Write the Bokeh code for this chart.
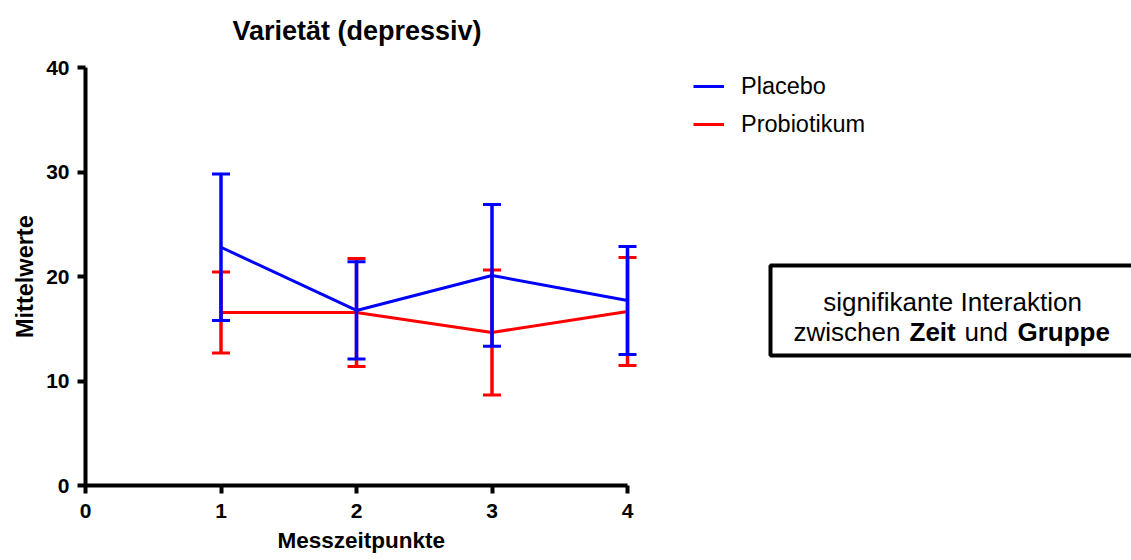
from bokeh.plotting import figure
from bokeh.models import (ColumnDataSource, Legend, LegendItem, Label, Title,
                          BoxAnnotation, Range1d, FixedTicker)
from bokeh.embed import file_html
from bokeh.resources import INLINE

# ---- data ----
zeitpunkte = [1, 2, 3, 4]
placebo_mean = [22.8, 16.75, 20.1, 17.7]
placebo_sd = [7.0, 4.65, 6.78, 5.17]
probio_mean = [16.55, 16.55, 14.65, 16.65]
probio_sd = [3.88, 5.17, 5.98, 5.17]
x_ticks = [0, 1, 2, 3, 4]
y_ticks = [0, 10, 20, 30, 40]
series_names = ["Placebo", "Probiotikum"]
series_colors = ["#0000FF", "#FF0000"]
chart_title = "Varietät (depressiv)"

FONT = "Liberation Sans"

# The frame spans from the y axis to the right/top edges of the page so that the
# title, legend and note box (drawn inside the frame) are not clipped; the axes
# themselves are bounded to 0..4 and 0..40.
LEFT, BOTTOM = 85, 485          # pixel position of the origin
X_AXIS_PX = 542                 # pixel length of the x axis (0..4)
Y_AXIS_PX = 418                 # pixel length of the y axis (0..40)
x_end = 4 * (1131 - LEFT) / X_AXIS_PX
y_end = 40 * BOTTOM / Y_AXIS_PX

p = figure(width=1131, height=560, output_backend="svg", toolbar_location=None,
           title=None,
           x_range=Range1d(0, x_end), y_range=Range1d(0, y_end),
           min_border_left=LEFT, min_border_right=0,
           min_border_top=0, min_border_bottom=560 - BOTTOM)
p.outline_line_color = None
p.grid.visible = False
p.background_fill_color = "white"
p.border_fill_color = "white"

for ax in (p.xaxis[0], p.yaxis[0]):
    ax.axis_line_width = 4
    ax.axis_line_color = "black"
    ax.major_tick_line_width = 4
    ax.major_tick_line_color = "black"
    ax.major_tick_out = 8
    ax.major_tick_in = 0
    ax.minor_tick_line_color = None
    ax.major_label_text_font = FONT
    ax.major_label_text_font_size = "21px"
    ax.major_label_text_font_style = "bold"
    ax.major_label_text_color = "black"

p.xaxis.bounds = (0, 4)
p.yaxis.bounds = (0, 40)
p.xaxis.ticker = FixedTicker(ticks=x_ticks)
p.yaxis.ticker = FixedTicker(ticks=y_ticks)
p.xaxis.major_label_standoff = 10
p.yaxis.major_label_standoff = 8

# y axis title, centred beside the bounded y axis (0..40)
p.add_layout(Title(text="Mittelwerte", align="left", offset=(BOTTOM - 276) - 61.5,
                   text_font=FONT, text_font_size="23.5px", text_font_style="bold",
                   text_color="black", standoff=12), "left")

# x axis title, centred under the bounded x axis (0..4)
p.add_layout(Title(text="Messzeitpunkte", align="left", offset=360 - 83 - LEFT,
                   text_font=FONT, text_font_size="22.5px", text_font_style="bold",
                   text_color="black", standoff=11), "below")

line_renderers = []
for name, mean, sd, color in [("Probiotikum", probio_mean, probio_sd, series_colors[1]),
                              ("Placebo", placebo_mean, placebo_sd, series_colors[0])]:
    src = ColumnDataSource(dict(
        x=zeitpunkte, y=mean,
        upper=[m + s for m, s in zip(mean, sd)],
        lower=[m - s for m, s in zip(mean, sd)],
    ))
    p.segment(x0="x", x1="x", y0="lower", y1="upper", source=src,
              line_color=color, line_width=3.5)
    p.scatter(x="x", y="upper", source=src, marker="dash", size=18,
              line_color=color, line_width=3)
    p.scatter(x="x", y="lower", source=src, marker="dash", size=18,
              line_color=color, line_width=3)
    r = p.line(x="x", y="y", source=src, line_color=color, line_width=3)
    line_renderers.append((name, r))

rmap = dict(line_renderers)
legend = Legend(items=[LegendItem(label=n, renderers=[rmap[n]]) for n in series_names],
                location=(693 - LEFT, BOTTOM - 139), orientation="vertical",
                glyph_width=31, glyph_height=30, label_height=30,
                label_standoff=17, spacing=8, padding=0, margin=0,
                border_line_color=None, background_fill_alpha=0,
                label_text_font=FONT, label_text_font_size="23.5px",
                label_text_color="black")
p.add_layout(legend)

# annotation box (screen units, relative to the frame)
box = BoxAnnotation(left=770 - LEFT, right=1160 - LEFT, bottom=BOTTOM - 355, top=BOTTOM - 265,
                    left_units="screen", right_units="screen",
                    bottom_units="screen", top_units="screen",
                    fill_color="white", fill_alpha=1.0,
                    line_color="black", line_alpha=1.0, line_width=4)
p.add_layout(box)

def lab(text, x, y, bold=False, align="left", size="26px"):
    p.add_layout(Label(x=x - LEFT, y=BOTTOM - y, x_units="screen", y_units="screen",
                       text=text, text_font=FONT, text_font_size=size,
                       text_font_style="bold" if bold else "normal",
                       text_color="black", text_align=align,
                       text_baseline="alphabetic"))

# chart title
lab(chart_title, 356.5, 30, bold=True, align="center", size="27px")

lab("signifikante Interaktion", 952, 301, align="center")
lab("zwischen", 793, 331)
lab("Zeit", 909, 331, bold=True)
lab("und", 964, 331)
lab("Gruppe", 1017, 331, bold=True)

open("out.html", "w").write(file_html(p, INLINE))
